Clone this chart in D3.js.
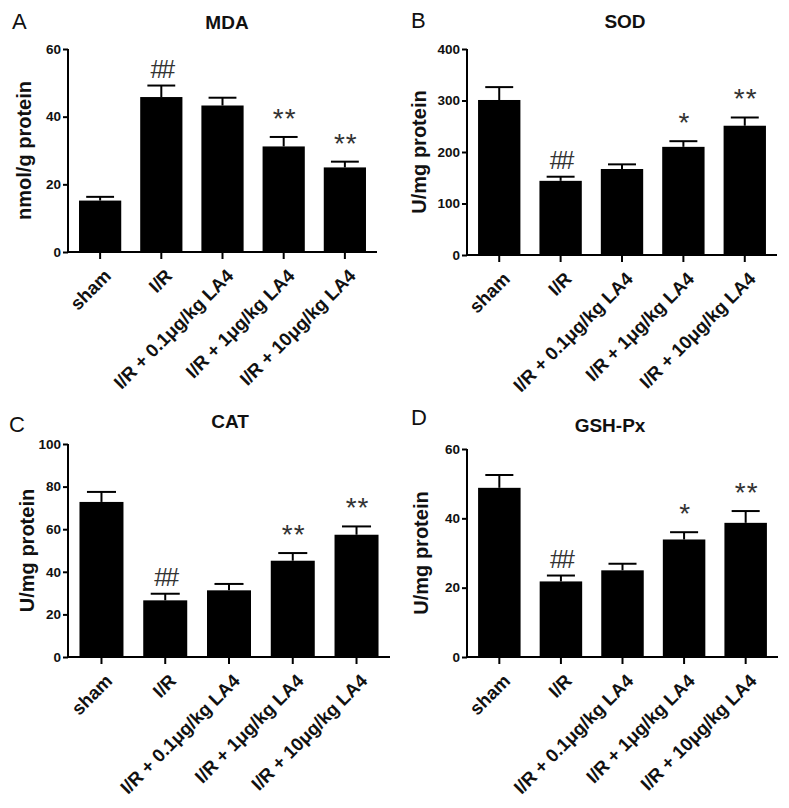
<!DOCTYPE html>
<html>
<head>
<meta charset="utf-8">
<script src="https://cdn.jsdelivr.net/npm/d3@7"></script>
<style>
  html, body { margin: 0; padding: 0; background: #fff; }
  svg { display: block; }
  text { font-family: "Liberation Sans", Arial, Helvetica, sans-serif; }
</style>
</head>
<body>
<svg id="chart" width="789" height="808"></svg>
<script>
// ---- Data ----
const categories = ["sham", "I/R", "I/R + 0.1\u03bcg/kg LA4", "I/R + 1\u03bcg/kg LA4", "I/R + 10\u03bcg/kg LA4"];

const mdaMeans = [15.2, 45.8, 43.3, 31.2, 25.0];
const mdaErrors = [1.1, 3.4, 2.3, 2.8, 1.7];
const mdaMarks = ["", "##", "", "**", "**"];
const mdaTicks = [0, 20, 40, 60];

const sodMeans = [301, 144, 167, 210, 251];
const sodErrors = [25, 8, 9, 11, 16];
const sodMarks = ["", "##", "", "*", "**"];
const sodTicks = [0, 100, 200, 300, 400];

const catMeans = [72.8, 26.6, 31.3, 45.2, 57.4];
const catErrors = [4.7, 3.1, 3.0, 3.6, 3.9];
const catMarks = ["", "##", "", "**", "**"];
const catTicks = [0, 20, 40, 60, 80, 100];

const gshMeans = [48.8, 21.8, 25.0, 33.9, 38.7];
const gshErrors = [3.7, 1.7, 1.9, 2.1, 3.4];
const gshMarks = ["", "##", "", "*", "**"];
const gshTicks = [0, 20, 40, 60];

const panelLetters = ["A", "B", "C", "D"];
const panelTitles = ["MDA", "SOD", "CAT", "GSH-Px"];
const yLabels = ["nmol/g protein", "U/mg protein", "U/mg protein", "U/mg protein"];

// ---- Layout (positions only) ----
const panels = [
  { means: mdaMeans, errors: mdaErrors, marks: mdaMarks, ticks: mdaTicks,
    x0: 68, x1: 377, yTop: 49, yBot: 252, letterX: 12, letterY: 29, titleX: 227, titleY: 29, yLabX: 31 },
  { means: sodMeans, errors: sodErrors, marks: sodMarks, ticks: sodTicks,
    x0: 467, x1: 777, yTop: 49, yBot: 255, letterX: 411, letterY: 28, titleX: 625, titleY: 28, yLabX: 426 },
  { means: catMeans, errors: catErrors, marks: catMarks, ticks: catTicks,
    x0: 68, x1: 390, yTop: 444, yBot: 657, letterX: 9, letterY: 432, titleX: 230, titleY: 428, yLabX: 34 },
  { means: gshMeans, errors: gshErrors, marks: gshMarks, ticks: gshTicks,
    x0: 467, x1: 778, yTop: 449, yBot: 657, letterX: 411, letterY: 425, titleX: 610, titleY: 432, yLabX: 428 }
];

const svg = d3.select("#chart");

panels.forEach((p, pi) => {
  const g = svg.append("g");
  const ymax = d3.max(p.ticks);
  const y = d3.scaleLinear().domain([0, ymax]).range([p.yBot, p.yTop]);
  const x = d3.scaleBand().domain(categories).range([p.x0, p.x1])
    .paddingInner(0.31).paddingOuter(0.18);

  // bars
  g.selectAll("rect.bar").data(p.means).join("rect")
    .attr("class", "bar")
    .attr("x", (d, i) => x(categories[i]))
    .attr("width", x.bandwidth())
    .attr("y", d => y(d))
    .attr("height", d => y(0) - y(d))
    .attr("fill", "#000");

  // error bars (upper whisker)
  const capW = x.bandwidth() * 0.66;
  p.means.forEach((m, i) => {
    const cx = x(categories[i]) + x.bandwidth() / 2;
    const top = y(m + p.errors[i]);
    g.append("line").attr("x1", cx).attr("x2", cx).attr("y1", y(m)).attr("y2", top)
      .attr("stroke", "#000").attr("stroke-width", 2);
    g.append("line").attr("x1", cx - capW / 2).attr("x2", cx + capW / 2).attr("y1", top).attr("y2", top)
      .attr("stroke", "#000").attr("stroke-width", 2);
    const mk = p.marks[i];
    if (mk) {
      const isHash = mk.indexOf("#") >= 0;
      g.append("text")
        .attr("x", cx + (isHash ? 0 : 1))
        .attr("y", top - (isHash ? 8 : 9))
        .attr("text-anchor", "middle")
        .attr("font-size", isHash ? 25 : 28)
        .attr("fill", "#333")
        .attr("letter-spacing", isHash ? -3 : 1)
        .text(mk);
    }
  });

  // y axis
  const yAxis = d3.axisLeft(y).tickValues(p.ticks).tickSize(5).tickPadding(2).tickFormat(d3.format("d"));
  const ya = g.append("g").attr("transform", `translate(${p.x0},0)`).call(yAxis);
  ya.select(".domain").attr("stroke-width", 2).attr("d", `M0,${p.yBot}V${p.yTop}`);
  ya.selectAll(".tick line").attr("stroke-width", 2);
  ya.selectAll(".tick text").attr("font-size", 13.5).attr("font-weight", "bold")
    .attr("font-family", "'Liberation Sans', Arial, sans-serif").attr("fill", "#111");

  // x axis
  const xAxis = d3.axisBottom(x).tickSize(7).tickFormat("");
  const xa = g.append("g").attr("transform", `translate(0,${p.yBot})`).call(xAxis);
  xa.select(".domain").attr("stroke-width", 2).attr("d", `M${p.x0},0H${p.x1}`);
  xa.selectAll(".tick line").attr("stroke-width", 2);

  // x labels rotated
  categories.forEach(c => {
    const tx = x(c) + x.bandwidth() / 2 + 12;
    const ty = p.yBot + 25;
    g.append("text")
      .attr("transform", `translate(${tx},${ty}) rotate(-45)`)
      .attr("text-anchor", "end")
      .attr("font-size", 18.5)
      .attr("font-weight", "bold")
      .attr("fill", "#111")
      .text(c);
  });

  // y label
  g.append("text")
    .attr("transform", `translate(${p.yLabX},${(p.yTop + p.yBot) / 2}) rotate(-90)`)
    .attr("text-anchor", "middle")
    .attr("font-size", 20)
    .attr("font-weight", "bold")
    .attr("fill", "#111")
    .text(yLabels[pi]);

  // title
  g.append("text")
    .attr("x", p.titleX).attr("y", p.titleY)
    .attr("text-anchor", "middle")
    .attr("font-size", 19)
    .attr("font-weight", "bold")
    .attr("fill", "#111")
    .text(panelTitles[pi]);

  // panel letter
  g.append("text")
    .attr("x", p.letterX).attr("y", p.letterY)
    .attr("font-size", 22)
    .attr("fill", "#111")
    .text(panelLetters[pi]);
});
</script>
</body>
</html>
